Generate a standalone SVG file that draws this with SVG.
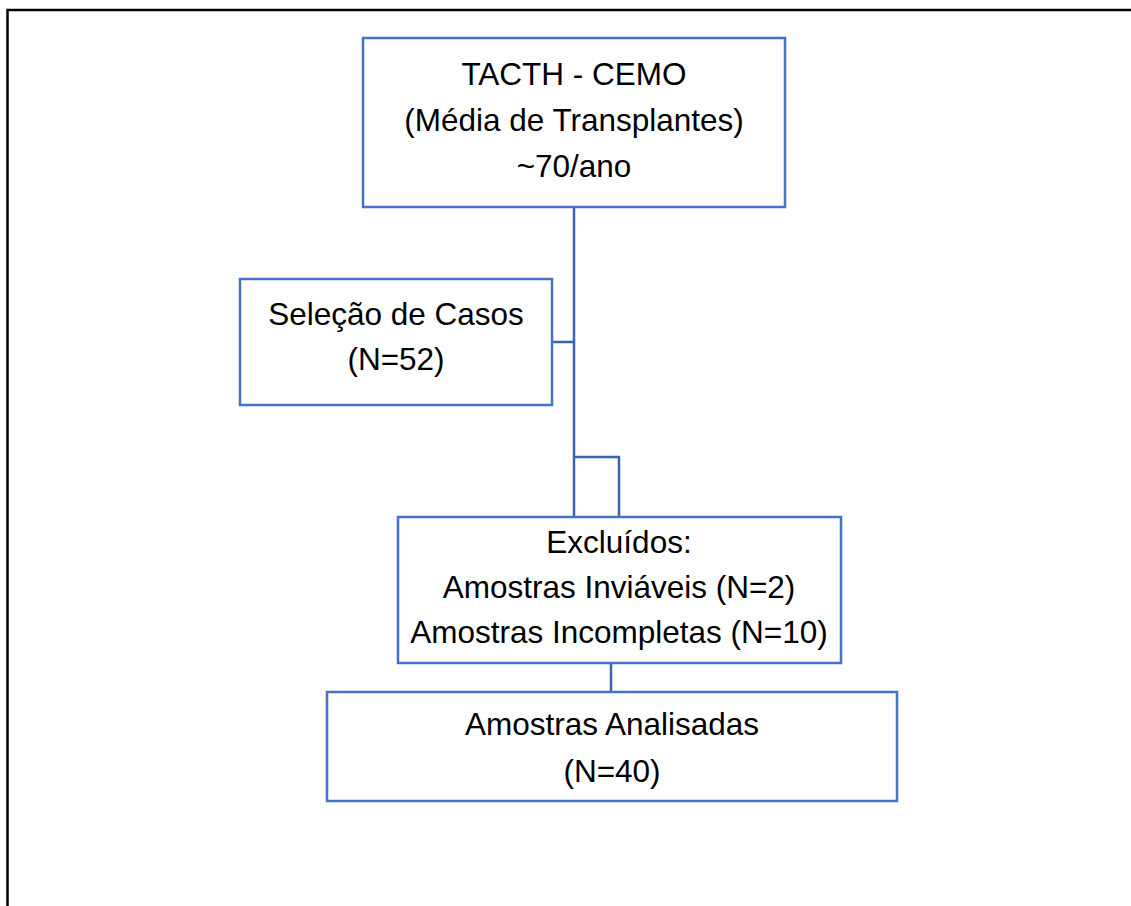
<svg xmlns="http://www.w3.org/2000/svg" width="1131" height="906" viewBox="0 0 1131 906">
<style>
.box{fill:#fff;stroke:#4472C4;stroke-width:2.5}
.conn{fill:none;stroke:#3B63AD;stroke-width:2.5}
.frame{fill:none;stroke:#000;stroke-width:2.5}
text{font-family:"Liberation Sans",Arial,sans-serif;font-size:31.5px;fill:#000;text-anchor:middle}
</style>
<rect width="1131" height="906" fill="#fff"/>
<path class="frame" d="M7.5,906 V10 H1131"/>
<g id="connectors">
<path class="conn" d="M574,207 V517"/>
<path class="conn" d="M552,342 H574"/>
<path class="conn" d="M574,457 H619 V517"/>
<path class="conn" d="M611,663 V692"/>
</g>
<g id="node-tacth">
<rect class="box" x="363" y="38" width="422" height="169"/>
<text x="574" y="85">TACTH - CEMO</text>
<text x="574" y="131">(Média de Transplantes)</text>
<text x="574" y="177">~70/ano</text>
</g>
<g id="node-selecao">
<rect class="box" x="240" y="279" width="312" height="126"/>
<text x="396" y="325">Seleção de Casos</text>
<text x="396" y="370">(N=52)</text>
</g>
<g id="node-excluidos">
<rect class="box" x="398" y="517" width="443" height="146"/>
<text x="619" y="553">Excluídos:</text>
<text x="619" y="598">Amostras Inviáveis (N=2)</text>
<text x="619" y="643">Amostras Incompletas (N=10)</text>
</g>
<g id="node-analisadas">
<rect class="box" x="327" y="692" width="570" height="109"/>
<text x="612" y="735">Amostras Analisadas</text>
<text x="612" y="782">(N=40)</text>
</g>
</svg>
